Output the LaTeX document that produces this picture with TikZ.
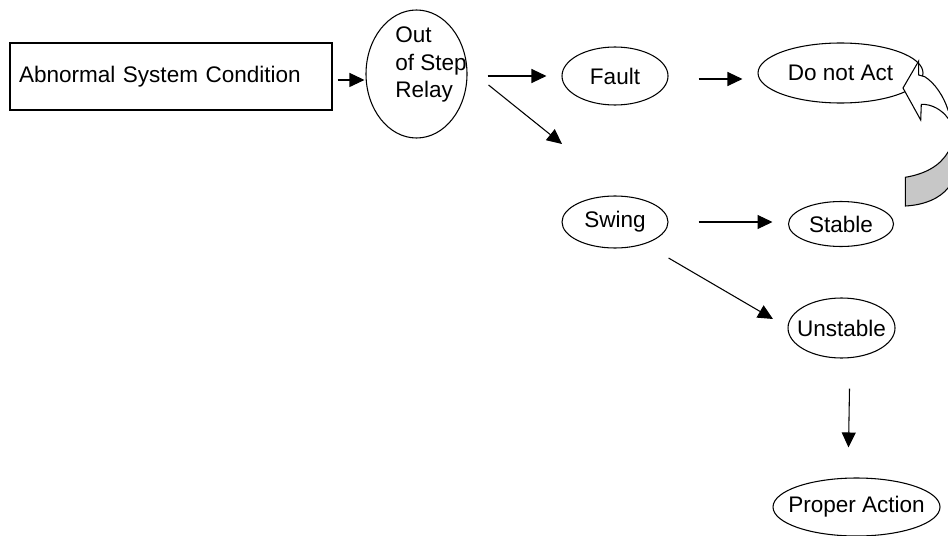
\documentclass[tikz,border=0pt]{standalone}
\usepackage{fontspec}
\setmainfont{Liberation Sans}
\usetikzlibrary{arrows.meta, shapes.geometric}

\definecolor{backface}{gray}{0.78}
\newcommand{\tx}[1]{\makebox[0pt]{#1}}

\begin{document}
\begin{tikzpicture}[x=0.75pt, y=-0.75pt,
	every node/.style={font=\fontsize{16.9}{20.25}\selectfont},
	oval/.style={ellipse, draw, line width=0.8pt, inner sep=0pt},
	arr/.style={-{Triangle[length=11.25pt, width=10.5pt]}, line width=0.8pt}]
	\useasboundingbox (0,0) rectangle (948,535);
	
	\node [draw, line width=0.8pt, minimum height=50.25pt, text width=228pt, inner xsep=6.75pt, align=left] (cond) at (171,76.5) {Abnormal System Condition};
	
	\node [oval, minimum width=75.75pt, minimum height=96pt] (relay) at (416.5,74) {};
	\node [anchor=north west, align=left, inner sep=0pt] (relaylbl) at (395,27) {Out\\of Step\\Relay};
	
	\node [oval, minimum width=79.5pt, minimum height=43.5pt] (fault) at (615,76) {\tx{Fault}};
	\node [oval, minimum width=123.75pt, minimum height=45pt] (donot) at (840.5,73) {\tx{Do not Act}};
	\node [oval, minimum width=79.5pt, minimum height=39pt] (swing) at (615,222) {\tx{Swing}};
	\node [oval, minimum width=78.75pt, minimum height=33.75pt] (stable) at (841,224) {\tx{Stable}};
	\node [oval, minimum width=80.25pt, minimum height=45pt] (unstable) at (841.5,328) {\tx{Unstable}};
	\node [oval, minimum width=125.25pt, minimum height=43.5pt] (proper) at (856.5,507) {\tx{Proper Action}};
	
	\coordinate (split) at (562,144);
	
	\draw [arr, shorten <=3.75pt, shorten >=0.75pt] ([yshift=-2.6pt]cond.east) -- ([yshift=-2.6pt]cond.east -| relay.west);
	\draw [arr, shorten <=15pt, shorten >=11.25pt] (relay.east |- fault.west) -- (fault.west);
	\draw [arr, shorten <=22.5pt, shorten >=11.25pt] ([yshift=-2.25pt]fault.east) -- ([yshift=-2.25pt]fault.east -| donot.west);
	\draw [arr] ([shift={(21,11)}]relay.east) -- (split);
	\draw [arr, shorten <=22.5pt, shorten >=11.6pt] (swing.east) -- (swing.east -| stable.west);
	\draw [arr] ([shift={(0,36)}]swing.east) -- ([shift={(-14.5,-9)}]unstable.west);
	\draw [arr] ([shift={(8,30)}]unstable.south) -- ([shift={(-8,-30)}]proper.north);
	
	% curved block arrow back to do not act
	\begin{scope}
		\clip (0,0) rectangle (948,535);
		\filldraw [fill=backface, line width=0.8pt] (905.3,177.3) -- (905.3,206) .. controls (925,205) and (940,198) .. (948,188) -- (958,176) -- (958,142) -- (948,152) .. controls (940,166) and (925,174) .. (905.3,177.3) -- cycle;
		\filldraw [fill=white, line width=0.8pt] (918.7,61) -- (903,88) -- (920.7,120) -- (921.3,104.3) .. controls (932,104) and (942,110) .. (948,118.3) -- (958,126) -- (958,104) -- (948,110) .. controls (944,97) and (935,83) .. (924.7,76.7) -- (918.7,75) -- cycle;
	\end{scope}
\end{tikzpicture}
\end{document}
